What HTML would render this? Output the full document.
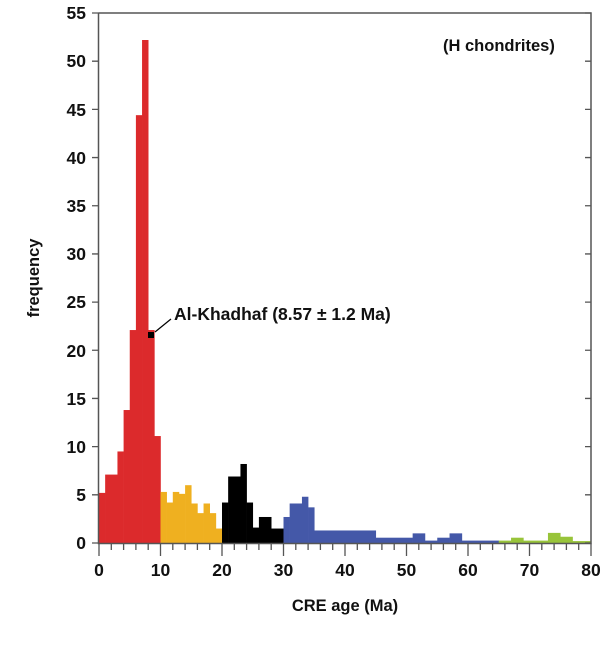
<!DOCTYPE html>
<html><head><meta charset="utf-8"><style>
html,body{margin:0;padding:0;background:#fff}
svg{display:block}
text{font-family:"Liberation Sans",sans-serif;font-weight:bold;fill:#111}
</style></head><body>
<svg id="s" width="605" height="649" viewBox="0 0 605 649" xmlns="http://www.w3.org/2000/svg">
<g id="bars"></g>
<rect x="148" y="332" width="6" height="6" fill="#000"/>
<line x1="155" y1="332" x2="171" y2="319" stroke="#000" stroke-width="1.2"/>
<text x="174" y="320" font-size="17.5">Al-Khadhaf (8.57 ± 1.2 Ma)</text>
<text x="443" y="51" font-size="16.5">(H chondrites)</text>
<g id="axes" stroke="#555" stroke-width="1.5" fill="none">
<path d="M98.5,13 V543.5 H591 V13 H98.5"/>
</g>
<g id="ticks" stroke="#555" stroke-width="1.3"></g>
<g font-size="17.5" text-anchor="end">
<text x="86" y="549">0</text><text x="86" y="501">5</text><text x="86" y="453">10</text>
<text x="86" y="405">15</text><text x="86" y="357">20</text><text x="86" y="308">25</text>
<text x="86" y="260">30</text><text x="86" y="212">35</text><text x="86" y="164">40</text>
<text x="86" y="116">45</text><text x="86" y="67">50</text><text x="86" y="19">55</text>
</g>
<g font-size="17.5" text-anchor="middle">
<text x="99" y="576">0</text><text x="160.5" y="576">10</text><text x="222" y="576">20</text>
<text x="283.5" y="576">30</text><text x="345" y="576">40</text><text x="406.5" y="576">50</text>
<text x="468" y="576">60</text><text x="529.5" y="576">70</text><text x="591" y="576">80</text>
</g>
<text x="345" y="611" font-size="16.5" text-anchor="middle">CRE age (Ma)</text>
<text transform="translate(39,278) rotate(-90)" font-size="16.5" text-anchor="middle">frequency</text>
</svg>
<script>
var X=function(m){return 99+6.15*m},Y=function(v){return 543-9.636*v};
var R="#dc2a2c",O="#efb020",K="#000",B="#4458a8",G="#98c43a";
var d=[[0,1,5.2,R],[1,3,7.1,R],[3,4,9.5,R],[4,5,13.8,R],[5,6,22.1,R],[6,7,44.4,R],[7,8,52.2,R],[8,9,22.1,R],[9,10,11.1,R],
[10,11,5.3,O],[11,12,4.2,O],[12,13,5.3,O],[13,14,5.1,O],[14,15,6.0,O],[15,16,4.1,O],[16,17,3.1,O],[17,18,4.1,O],[18,19,3.1,O],[19,20,1.5,O],
[20,21,4.2,K],[21,23,6.9,K],[23,24,8.2,K],[24,25,4.2,K],[25,26,1.6,K],[26,28,2.7,K],[28,30,1.5,K],
[30,31,2.7,B],[31,33,4.1,B],[33,34,4.8,B],[34,35,3.7,B],[35,45,1.3,B],[45,51,0.55,B],[51,53,1.0,B],[53,55,0.25,B],[55,57,0.55,B],[57,59,1.0,B],[59,65,0.25,B],
[65,67,0.25,G],[67,69,0.55,G],[69,73,0.25,G],[73,75,1.05,G],[75,77,0.65,G],[77,80,0.2,G]];
var ns="http://www.w3.org/2000/svg",g=document.getElementById("bars");
d.forEach(function(b){var r=document.createElementNS(ns,"rect");r.setAttribute("x",X(b[0]));r.setAttribute("width",X(b[1])-X(b[0])+0.3);
r.setAttribute("y",Y(b[2]));r.setAttribute("height",543.5-Y(b[2]));r.setAttribute("fill",b[3]);g.appendChild(r);});
var t=document.getElementById("ticks"),p="";
for(var i=0;i<=11;i++){var y=Y(i*5);p+="M92,"+y+"H98.5M591,"+y+"H585";}
for(var m=0;m<=80;m+=2){var x=X(m);p+="M"+x+",543.5V"+(m%10==0?556:550);}
var pa=document.createElementNS(ns,"path");pa.setAttribute("d",p);t.appendChild(pa);
</script>
</body></html>
